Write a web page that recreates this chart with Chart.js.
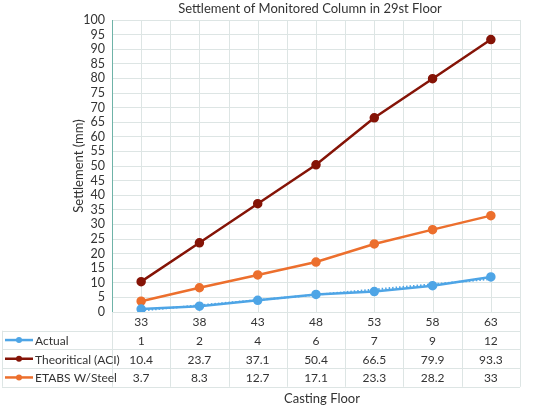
<!DOCTYPE html>
<html>
<head>
<meta charset="utf-8">
<script src="https://cdn.jsdelivr.net/npm/chart.js@4"></script>
<style>
  html, body { margin: 0; padding: 0; background: #fff; }
  #wrap { width: 543px; height: 407px; }
</style>
</head>
<body>
<div id="wrap"><canvas id="settlementChart" width="543" height="407"></canvas></div>
<script>
const FONT = "Lato, 'Open Sans', sans-serif";

// Data
const floors = ["33", "38", "43", "48", "53", "58", "63"];
const actual = [1, 2, 4, 6, 7, 9, 12];
const theoretical = [10.4, 23.7, 37.1, 50.4, 66.5, 79.9, 93.3];
const etabs = [3.7, 8.3, 12.7, 17.1, 23.3, 28.2, 33];
// dotted linear trend on Actual (ends)
const actualTrend = [0.5, null, null, null, null, null, 11.3];

const seriesNames = ["Actual", "Theoritical (ACI)", "ETABS W/Steel"];
const seriesColors = ["#4ea5e6", "#851407", "#ec6f2d"];

const gridColor = "#dde5e4";
const textColor = "#333333";

// extra vertical grid + data table + axis title
const tablePlugin = {
    id: "dataTable",
    beforeDatasetsDraw(chart) {
        const { ctx, chartArea, scales } = chart;
        const x = scales.x;
        const step = x.getPixelForValue(1) - x.getPixelForValue(0);
        ctx.save();
        ctx.strokeStyle = gridColor;
        ctx.lineWidth = 1;
        for (let i = 0; i <= floors.length * 2; i++) {
            const px = Math.round(x.getPixelForValue(0) - step / 2 + i * step / 2) + 0.5;
            ctx.beginPath();
            ctx.moveTo(px, chartArea.top);
            ctx.lineTo(px, chartArea.bottom);
            ctx.stroke();
        }
        ctx.restore();
    },
    afterDraw(chart) {
        const { ctx, chartArea, scales } = chart;
        const x = scales.x;
        const step = x.getPixelForValue(1) - x.getPixelForValue(0);
        const top = chartArea.bottom;
        const rowH = 18.7;
        const left = 2;
        const right = chartArea.right;
        const bottom = top + rowH * 4;

        ctx.save();
        ctx.strokeStyle = gridColor;
        ctx.lineWidth = 1;
        // horizontal lines
        for (let r = 0; r <= 4; r++) {
            const py = Math.round(top + r * rowH) + 0.5;
            ctx.beginPath();
            ctx.moveTo(r === 0 ? chartArea.left : left, py);
            ctx.lineTo(right, py);
            ctx.stroke();
        }
        // vertical lines
        for (let i = 0; i <= floors.length; i++) {
            const px = Math.round(x.getPixelForValue(0) - step / 2 + i * step) + 0.5;
            ctx.beginPath();
            ctx.moveTo(px, i === 0 ? chartArea.top : top);
            ctx.lineTo(px, bottom);
            ctx.stroke();
        }
        ctx.beginPath();
        ctx.moveTo(left + 0.5, top + rowH);
        ctx.lineTo(left + 0.5, bottom);
        ctx.stroke();

        // y axis line
        ctx.strokeStyle = "#6fb3a8";
        ctx.beginPath();
        ctx.moveTo(chartArea.left + 0.5, chartArea.top);
        ctx.lineTo(chartArea.left + 0.5, chartArea.bottom);
        ctx.stroke();

        ctx.fillStyle = textColor;
        ctx.font = "12px " + FONT;
        ctx.textAlign = "center";
        ctx.textBaseline = "middle";
        floors.forEach((f, i) => {
            ctx.fillText(f, x.getPixelForValue(i), top + rowH / 2 + 1);
        });

        const rows = [actual, theoretical, etabs];
        rows.forEach((vals, r) => {
            const cy = top + rowH * (r + 1.5) + 1;
            ctx.font = "12px " + FONT;
            ctx.textAlign = "center";
            ctx.fillStyle = textColor;
            vals.forEach((v, i) => {
                ctx.fillText(String(v), x.getPixelForValue(i), cy);
            });
            // legend key
            ctx.strokeStyle = seriesColors[r];
            ctx.lineWidth = 2.5;
            ctx.beginPath();
            ctx.moveTo(5, cy - 1);
            ctx.lineTo(33, cy - 1);
            ctx.stroke();
            ctx.fillStyle = seriesColors[r];
            ctx.beginPath();
            ctx.arc(19, cy - 1, 3, 0, Math.PI * 2);
            ctx.fill();
            ctx.fillStyle = textColor;
            ctx.textAlign = "left";
            ctx.fillText(seriesNames[r], 35, cy);
        });

        // titles
        ctx.font = "13px " + FONT;
        ctx.textAlign = "center";
        ctx.fillText("Casting Floor", 322, 399);
        ctx.fillText("Settlement of Monitored Column in 29st Floor", 310, 9);
        ctx.restore();
    }
};

new Chart(document.getElementById("settlementChart"), {
    type: "line",
    data: {
        labels: floors,
        datasets: [
            {
                label: "Actual trend",
                data: actualTrend,
                spanGaps: true,
                borderColor: seriesColors[0],
                borderWidth: 2,
                borderDash: [1.5, 2],
                pointRadius: 0
            },
            {
                label: seriesNames[0],
                data: actual,
                borderColor: seriesColors[0],
                backgroundColor: seriesColors[0],
                borderWidth: 2.5,
                pointRadius: 3.5
            },
            {
                label: seriesNames[1],
                data: theoretical,
                borderColor: seriesColors[1],
                backgroundColor: seriesColors[1],
                borderWidth: 2.5,
                pointRadius: 3.5
            },
            {
                label: seriesNames[2],
                data: etabs,
                borderColor: seriesColors[2],
                backgroundColor: seriesColors[2],
                borderWidth: 2.5,
                pointRadius: 3.5
            }
        ]
    },
    options: {
        responsive: false,
        animation: false,
        layout: { padding: { left: 67, right: 23, top: 20, bottom: 95 } },
        plugins: {
            legend: { display: false },
            title: { display: false },
            tooltip: { enabled: false }
        },
        scales: {
            x: {
                offset: true,
                ticks: { display: false },
                grid: { display: false },
                border: { display: false },
                afterFit: s => { s.height = 0; }
            },
            y: {
                min: 0,
                max: 100,
                ticks: {
                    stepSize: 5,
                    autoSkip: false,
                    padding: 7,
                    color: textColor,
                    font: { family: FONT, size: 12.5 }
                },
                grid: { color: gridColor, drawTicks: false },
                border: { display: false },
                title: {
                    display: true,
                    text: "Settlement (mm)",
                    color: textColor,
                    font: { family: FONT, size: 13 },
                    padding: { top: 4, bottom: 0 }
                },
                afterFit: s => { s.width = 45; }
            }
        }
    },
    plugins: [tablePlugin]
});
</script>
</body>
</html>
